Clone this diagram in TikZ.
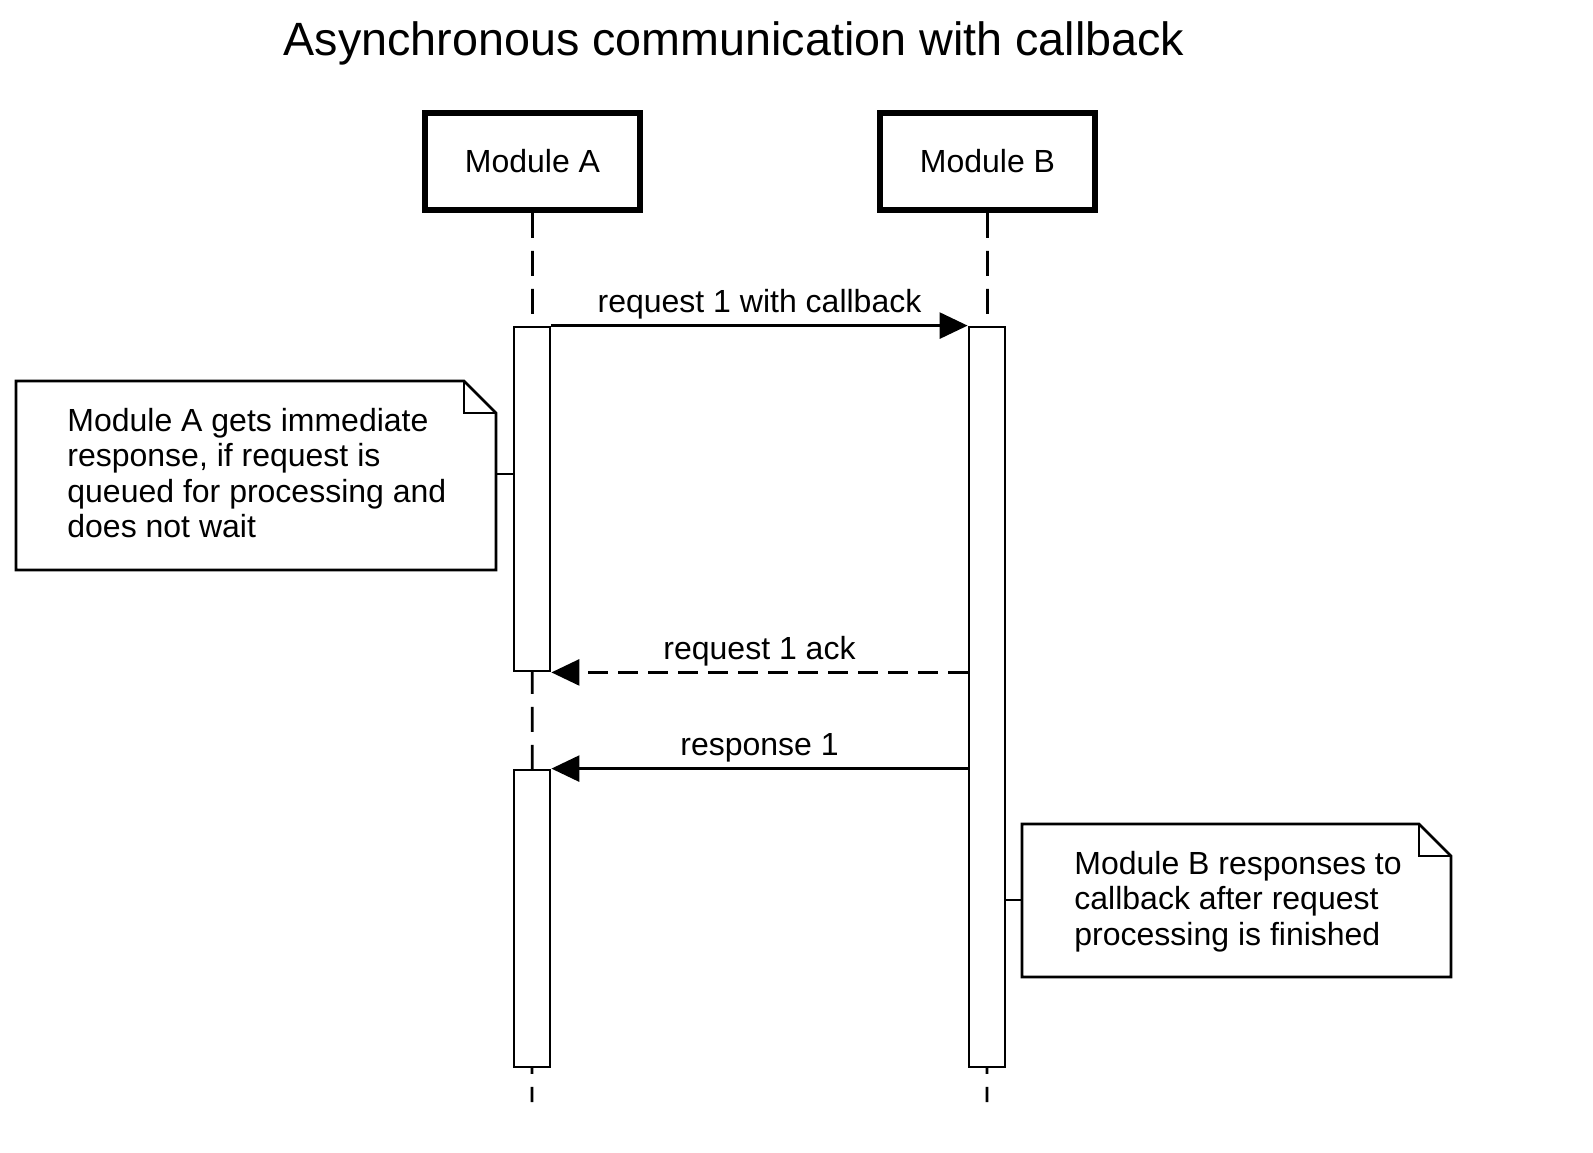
\documentclass[tikz,border=0pt]{standalone}
\usepackage{fontspec}
\setmainfont{Liberation Sans}
\usetikzlibrary{arrows.meta}
\begin{document}
\begin{tikzpicture}[x=0.5pt,y=-0.5pt,
  modbox/.style={draw=black,line width=2.9pt,fill=white,minimum width=107.5pt,minimum height=48.5pt,inner sep=0pt,font=\fontsize{16pt}{19pt}\selectfont},
  lifeline/.style={draw=black,line width=1.4pt,dash pattern=on 12.5pt off 6.5pt},
  actbar/.style={draw=black,line width=1.4pt,fill=white,minimum width=18pt,inner sep=0pt},
  msg/.style={draw=black,line width=1.4pt,-{Triangle[length=14pt,width=13pt]}},
  dmsg/.style={msg,dash pattern=on 10pt off 5pt},
  lbl/.style={font=\fontsize{16pt}{19pt}\selectfont,inner sep=0pt,anchor=base,yshift=6.5pt},
  notebox/.style={draw=black,line width=1.4pt,fill=white},
  notetext/.style={inner sep=0pt,anchor=base west},
]
\useasboundingbox (0,0) rectangle (1593,1152);
% title
\node[inner sep=0pt,anchor=base,font=\fontsize{23.35pt}{28pt}\selectfont] (title) at (734,55) {Asynchronous communication with callback};
% lifeline heads
\node[modbox] (ma) at (532.5,161.5) {Module A};
\node[modbox] (mb) at (987.5,161.5) {Module B};
\coordinate (endA) at (532,1102);
\coordinate (endB) at (987,1102);
\draw[lifeline] (ma.south) -- (endA);
\draw[lifeline] (mb.south) -- (endB);
% activation bars
\node[actbar,minimum height=172pt] (a1) at (532,499) {};
\node[actbar,minimum height=148.5pt] (a2) at (532,918.5) {};
\node[actbar,minimum height=370pt] (b) at (987,697) {};
% messages
\draw[msg] (a1.north east) -- node[lbl] (l1) {request 1 with callback} (b.north west);
\draw[dmsg] (b.west |- a1.south) -- node[lbl] (l2) {request 1 ack} (a1.south east);
\draw[msg] (b.west |- a2.north) -- node[lbl] (l3) {response 1} (a2.north east);
% note A
\draw[notebox] (16,381) -- (464,381) -- (496,413) -- (496,570) -- (16,570) -- cycle;
\draw[line width=1.4pt] (464,381) -- (464,413) -- (496,413);
\coordinate (nA) at (496,474);
\draw[line width=1.4pt] (nA) -- (a1.west |- nA);
\node[notetext] (tA) at (67,431) {\parbox[t]{220pt}{\fontsize{16pt}{17.8pt}\selectfont Module A gets immediate\\response, if request is\\queued for processing and\\does not wait}};
% note B
\draw[notebox] (1022,824) -- (1419,824) -- (1451,856) -- (1451,977) -- (1022,977) -- cycle;
\draw[line width=1.4pt] (1419,824) -- (1419,856) -- (1451,856);
\coordinate (nB) at (1022,900);
\draw[line width=1.4pt] (b.east |- nB) -- (nB);
\node[notetext] (tB) at (1074,874) {\parbox[t]{200pt}{\fontsize{16pt}{17.8pt}\selectfont Module B responses to\\callback after request\\processing is finished}};
\end{tikzpicture}
\end{document}
